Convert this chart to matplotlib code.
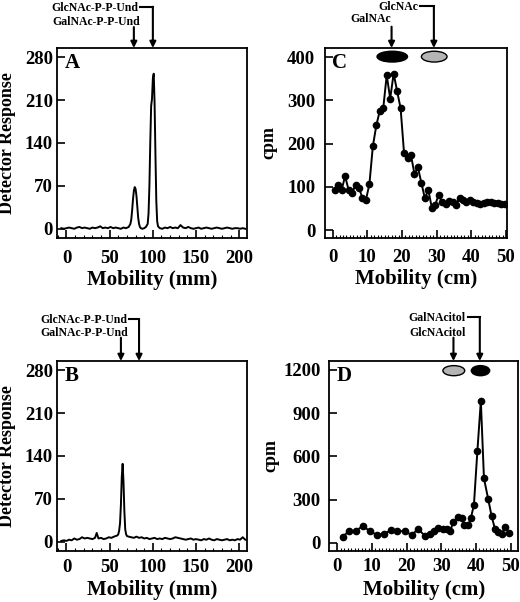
import numpy as np
import matplotlib.pyplot as plt
from matplotlib.patches import Ellipse

plt.rcParams['font.family'] = ['Liberation Serif', 'DejaVu Serif']
plt.rcParams['font.weight'] = 'bold'

# panel A: HPLC trace (mm, detector response)
A_x = [-6, -3, 0, 3, 6, 9, 12, 15, 18, 21, 24, 27, 30, 33, 36, 39, 42, 45, 48, 51,
       54, 57, 60, 63, 66, 69, 72, 74, 75, 76, 77, 78, 79, 80, 81, 82, 83, 84, 85, 86,
       88, 90, 92, 94, 95, 96, 97, 98, 99, 100, 101, 102, 103, 104, 105, 106, 108, 111, 114, 117,
       120, 123, 126, 129, 132, 135, 138, 141, 144, 147, 150, 153, 156, 159, 162, 165, 168, 171, 174, 177,
       180, 183, 186, 189, 192, 195, 198, 201, 204, 207]
A_y = [1, 0, 1, 2, 1, 0, 2, 3, 1, 2, 1, 0, 2, 1, 2, 4, 1, 2, 1, 3,
       1, 2, 1, 0, 2, 1, 3, 8, 15, 30, 48, 62, 68, 65, 54, 36, 18, 8, 3, 1,
       0, 1, 3, 8, 25, 70, 140, 200, 212, 245, 253, 205, 120, 45, 12, 4, 1, 0, 2, 1,
       3, 1, 2, 1, 6, 2, 1, 3, 1, 0, 1, 2, 0, 1, 2, 1, 0, 1, 2, 1,
       0, 1, 2, 1, 0, 1, 1, 0, 1, 0]

# panel B
B_x = [-6, -3, 0, 3, 6, 9, 12, 15, 18, 21, 24, 27, 30, 33, 35, 37, 40, 43, 46, 49,
       52, 55, 57, 59, 60, 61, 62, 63, 64, 65, 66, 67, 68, 69, 70, 72, 75, 78, 81, 84,
       87, 90, 93, 96, 99, 102, 105, 108, 111, 114, 117, 120, 123, 126, 129, 132, 135, 138, 141, 144,
       147, 150, 153, 156, 159, 162, 165, 168, 171, 174, 177, 180, 183, 186, 189, 192, 195, 198, 201, 204,
       207]
B_y = [1, 2, 1, 3, 2, 5, 3, 4, 7, 5, 6, 5, 4, 6, 14, 5, 6, 4, 5, 7,
       6, 8, 9, 10, 12, 18, 30, 60, 105, 127, 98, 50, 20, 12, 9, 8, 7, 6, 8, 6,
       7, 5, 6, 4, 5, 6, 4, 5, 4, 6, 5, 4, 5, 7, 6, 5, 4, 3, 4, 5,
       3, 4, 3, 2, 4, 3, 5, 3, 2, 4, 3, 2, 3, 4, 2, 3, 2, 4, 3, 7,
       3]

# panel C: paper chromatography fractions (cm, cpm)
C_x = np.arange(50) + 0.6
C_y = [93, 105, 93, 125, 93, 85, 105, 98, 74, 70,
       106, 194, 242, 276, 282, 358, 304, 362, 321, 282,
       178, 166, 173, 130, 145, 109, 74, 93, 52, 59,
       82, 64, 60, 68, 64, 59, 74, 70, 66, 70,
       64, 63, 60, 63, 64, 66, 63, 63, 60, 60]

# panel D
D_x = [1.5, 3.4, 5.3, 7.4, 9.3, 11.5, 13.5, 15.4, 17.3, 19.5, 21.4, 23.3, 25.2, 26.7, 27.9,
       29.1, 30.4, 31.5, 32.5, 33.5, 34.7, 35.9, 36.6, 37.8, 38.5, 39.4, 40.4, 41.4, 42.3,
       43.5, 44.5, 45.5, 46.4, 47.4, 48.4, 49.5]
D_y = [42, 81, 81, 118, 81, 54, 63, 86, 81, 81, 54, 95, 50, 63, 81,
       104, 97, 97, 81, 144, 179, 172, 123, 123, 170, 262, 637, 985, 447,
       306, 186, 93, 78, 63, 109, 69]

fig = plt.figure(figsize=(5.2, 6.02), dpi=100)
axA = fig.add_axes([0.1096, 0.6047, 0.3654, 0.3156])
axC = fig.add_axes([0.625, 0.6047, 0.3494, 0.3156])
axB = fig.add_axes([0.1096, 0.0852, 0.3654, 0.3151])
axD = fig.add_axes([0.6327, 0.0852, 0.364, 0.3151])

axA.plot(A_x, A_y, color='black', lw=1.4)
axB.plot(B_x, B_y, color='black', lw=1.4)
axC.plot(C_x, C_y, color='black', lw=1.4, marker='o', ms=4.5)
axD.plot(D_x, D_y, color='black', lw=1.4, marker='o', ms=4.5)

for ax in (axA, axB):
    ax.set_xlim(-11, 209)
    ax.set_ylim(-15, 295)
    ax.set_xticks([0, 50, 100, 150, 200])
    ax.set_xticks(np.arange(-10, 210, 10), minor=True)
    ax.set_yticks([0, 70, 140, 210, 280])
    ax.set_xlabel('Mobility (mm)', fontsize=15, fontweight='bold')
    ax.set_ylabel('Detector Response', fontsize=13, fontweight='bold')
    ax.yaxis.set_label_coords(-0.215, 0.5)

axC.set_xlim(-2.2, 50.2)
axC.set_ylim(-18, 421)
axC.set_yticks([0, 100, 200, 300, 400])
axD.set_xlim(-2.4, 52.2)
axD.set_ylim(-55, 1262)
axD.set_yticks([0, 300, 600, 900, 1200])
for ax in (axC, axD):
    ax.set_xticks([0, 10, 20, 30, 40, 50])
    ax.set_xticks(np.arange(0, 51, 1), minor=True)
    ax.set_xlabel('Mobility (cm)', fontsize=15, fontweight='bold')
    ax.set_ylabel('cpm', fontsize=13, fontweight='bold')
axC.yaxis.set_label_coords(-0.26, 0.5)
axD.yaxis.set_label_coords(-0.26, 0.5)

for ax in (axA, axB, axC, axD):
    for s in ax.spines.values():
        s.set_linewidth(1.3)
    ax.tick_params(axis='both', which='major', direction='in', length=6, width=1.2,
                   labelsize=13.5, top=False, right=False)
    ax.tick_params(axis='x', which='minor', direction='in', length=2.5, width=0.8, top=False)
    for lab in ax.get_xticklabels() + ax.get_yticklabels():
        lab.set_fontweight('bold')

axA.tick_params(axis='x', pad=9)
axB.tick_params(axis='x', pad=6)
axC.tick_params(axis='x', pad=8)
axD.tick_params(axis='x', pad=5)
axA.tick_params(axis='y', pad=3)
axB.tick_params(axis='y', pad=3)
axC.tick_params(axis='y', pad=7)
axD.tick_params(axis='y', pad=6)
axA.xaxis.labelpad = 2
axB.xaxis.labelpad = 3
axC.xaxis.labelpad = 2
axD.xaxis.labelpad = 4

for ax, letter in ((axA, 'A'), (axB, 'B'), (axC, 'C'), (axD, 'D')):
    ax.text(0.04, 0.975, letter, transform=ax.transAxes, fontsize=15,
            fontweight='bold', va='top', ha='left')


def marker_arrows(ax, top_label, top_end, top_x, low_label, low_end, low_x,
                  y_top, y_low, y_arrow):
    tr = ax.get_xaxis_transform()
    ax.text(top_end, y_top, top_label, transform=tr, ha='right', va='center',
            fontsize=8.5, fontweight='bold')
    ax.text(low_end, y_low, low_label, transform=tr, ha='right', va='center',
            fontsize=8.5, fontweight='bold')
    span = ax.get_xlim()[1] - ax.get_xlim()[0]
    ax.plot([top_end + span * 0.012, top_x], [y_top + 0.005, y_top + 0.005],
            transform=tr, color='black', lw=1.5, clip_on=False)
    ax.annotate('', xy=(top_x, 1.0), xycoords=tr, xytext=(top_x, y_top + 0.005),
                textcoords=tr, arrowprops=dict(arrowstyle='-|>', lw=1.5, color='black',
                                               mutation_scale=9, shrinkA=0, shrinkB=0))
    ax.annotate('', xy=(low_x, 1.0), xycoords=tr, xytext=(low_x, y_arrow),
                textcoords=tr, arrowprops=dict(arrowstyle='-|>', lw=1.5, color='black',
                                               mutation_scale=9, shrinkA=0, shrinkB=0))


marker_arrows(axA, 'GlcNAc-P-P-Und', 83, 100, 'GalNAc-P-P-Und', 85, 78, 1.212, 1.138, 1.11)
marker_arrows(axB, 'GlcNAc-P-P-Und', 70, 84, 'GalNAc-P-P-Und', 71, 63, 1.216, 1.148, 1.123)
marker_arrows(axC, 'GlcNAc', 24.7, 29.2, 'GalNAc', 16.7, 17.0, 1.215, 1.152, 1.112)
marker_arrows(axD, 'GalNAcitol', 37.1, 41.1, 'GlcNAcitol', 37.1, 33.5, 1.225, 1.146, 1.123)

axC.add_patch(Ellipse((17.2, 401), 8.8, 25, facecolor='black', edgecolor='black', lw=1))
axC.add_patch(Ellipse((29.3, 401), 7.4, 25, facecolor='#b4b4b4', edgecolor='black', lw=1))
axD.add_patch(Ellipse((33.6, 1195), 6.3, 70, facecolor='#b4b4b4', edgecolor='black', lw=1))
axD.add_patch(Ellipse((41.3, 1195), 5.3, 70, facecolor='black', edgecolor='black', lw=1))

plt.savefig('out.png', dpi=100)
